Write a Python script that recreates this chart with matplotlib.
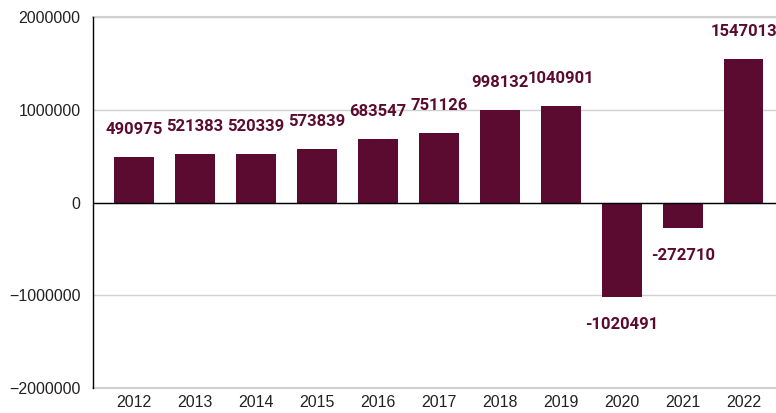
import numpy as np
import matplotlib.pyplot as plt

# 年ごとの値
years = ['2012', '2013', '2014', '2015', '2016', '2017',
         '2018', '2019', '2020', '2021', '2022']
values = [490975, 521383, 520339, 573839, 683547, 751126,
          998132, 1040901, -1020491, -272710, 1547013]

bar_color = '#5c0b30'

fig = plt.figure(figsize=(7.76, 4.13), dpi=100)
ax = fig.add_axes([0.1198, 0.0605, 0.8802, 0.8983])

x = np.arange(len(years))
ax.bar(x, values, width=0.65, color=bar_color, zorder=3)

# 値ラベル（正は上、負は下）
for xi, v in zip(x, values):
    off = 20 if v >= 0 else -20
    ax.annotate(str(v), (xi, v), xytext=(0, off), textcoords='offset points',
                ha='center', va='center', fontsize=12, fontweight='bold',
                family='Roboto', color=bar_color)

ax.set_xlim(-0.67, 10.53)
ax.set_ylim(-2000000, 2000000)
ax.set_yticks([-2000000, -1000000, 0, 1000000, 2000000])
ax.set_yticklabels(['\u22122000000', '\u22121000000', '0', '1000000', '2000000'])
ax.set_xticks(x)
ax.set_xticklabels(years)

ax.yaxis.grid(True, color='#d0d0d0', linewidth=1, zorder=0)
ax.axhline(-2000000, color='#d0d0d0', linewidth=1.5, zorder=0, clip_on=False)
ax.axhline(2000000, color='#d0d0d0', linewidth=1.5, zorder=0, clip_on=False)
ax.axhline(0, color='black', linewidth=1, zorder=4)

for s in ['top', 'right', 'bottom']:
    ax.spines[s].set_visible(False)
ax.spines['left'].set_color('black')
ax.spines['left'].set_linewidth(1)

ax.tick_params(axis='both', length=0, labelsize=11.5, colors='#222222')
ax.tick_params(axis='y', pad=9)
ax.tick_params(axis='x', pad=5)
for lab in ax.get_xticklabels() + ax.get_yticklabels():
    lab.set_family('Liberation Sans')

fig.savefig('out.png', dpi=100)
